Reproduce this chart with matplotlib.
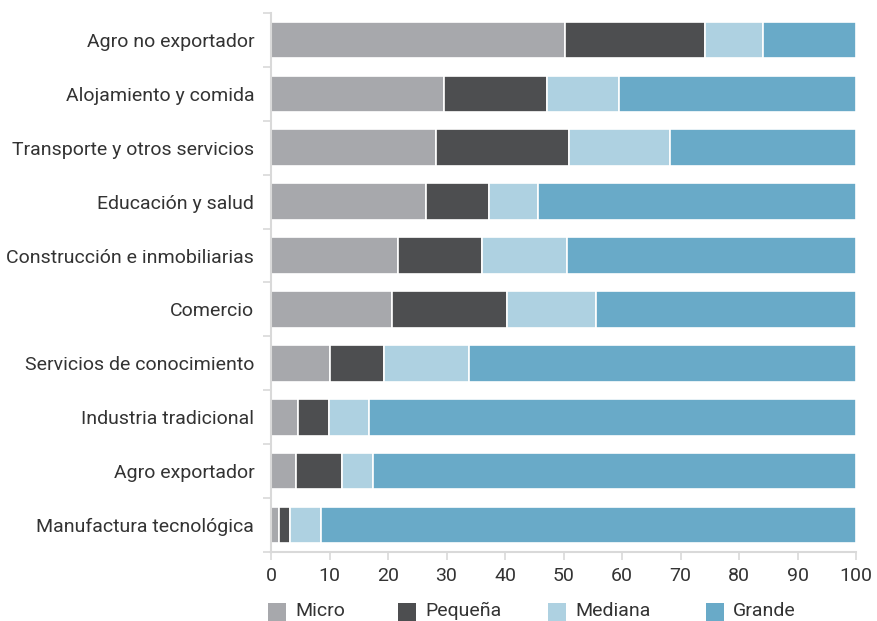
import matplotlib.pyplot as plt
from matplotlib.patches import Rectangle

plt.rcParams['font.family'] = ['Roboto', 'DejaVu Sans']

sectores = [
    "Agro no exportador",
    "Alojamiento y comida",
    "Transporte y otros servicios",
    "Educación y salud",
    "Construcción e inmobiliarias",
    "Comercio",
    "Servicios de conocimiento",
    "Industria tradicional",
    "Agro exportador",
    "Manufactura tecnológica",
]
micro = [50.3, 29.6, 28.2, 26.5, 21.7, 20.7, 10.1, 4.6, 4.3, 1.4]
pequena = [23.9, 17.6, 22.7, 10.8, 14.4, 19.6, 9.2, 5.3, 7.8, 1.8]
mediana = [9.9, 12.3, 17.3, 8.3, 14.5, 15.3, 14.5, 6.9, 5.3, 5.3]
grande = [100 - a - b - c for a, b, c in zip(micro, pequena, mediana)]

series = [micro, pequena, mediana, grande]
nombres = ["Micro", "Pequeña", "Mediana", "Grande"]
colores = ["#a7a8ac", "#4d4e50", "#aed1e1", "#69aac8"]

texto = "#333333"
gris = "#d9d9d9"

W, H = 877, 621
fig = plt.figure(figsize=(W / 100, H / 100), dpi=100)
ax = fig.add_axes([271 / W, 1 - 552 / H, 585 / W, 539 / H])

y = list(range(len(sectores)))
izq = [0.0] * len(sectores)
for vals, nombre, color in zip(series, nombres, colores):
    ax.barh(y, vals, left=izq, height=0.68, color=color,
            edgecolor="white", linewidth=1.2, label=nombre)
    izq = [a + b for a, b in zip(izq, vals)]

ax.set_xlim(0, 100)
ax.set_ylim(len(sectores) - 0.5, -0.5)
ax.set_xticks(range(0, 101, 10))
ax.set_yticks(y)
ax.set_yticklabels(sectores)
ax.set_yticks([i - 0.5 for i in range(len(sectores) + 1)], minor=True)

for s in ["top", "right"]:
    ax.spines[s].set_visible(False)
for s in ["left", "bottom"]:
    ax.spines[s].set_color(gris)
    ax.spines[s].set_linewidth(1.5)

ax.tick_params(axis="y", which="major", length=0, pad=12,
               labelsize=14, labelcolor=texto)
ax.tick_params(axis="y", which="minor", length=6, width=1.2, color=gris)
ax.tick_params(axis="x", length=6, width=1.2, color=gris, pad=5,
               labelsize=14, labelcolor=texto)

# leyenda inferior: cuadro de color + nombre
x_leyenda = [268, 398, 548, 706]
for xp, nombre, color in zip(x_leyenda, nombres, colores):
    fig.patches.append(Rectangle((xp / W, 0), 18 / W, 18 / H,
                                 transform=fig.transFigure,
                                 facecolor=color, edgecolor="none"))
    fig.text((xp + 27) / W, 1 - 611 / H, nombre, fontsize=14,
             color=texto, va="center", ha="left")

plt.savefig("out.png", dpi=100)
